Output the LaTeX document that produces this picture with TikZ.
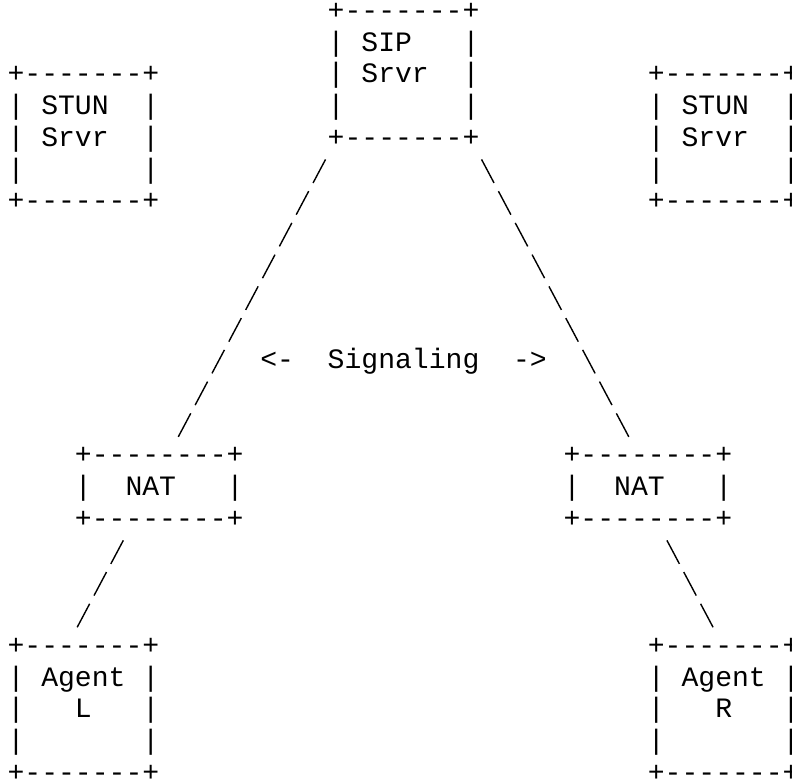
\documentclass[tikz,border=0pt]{standalone}
\usepackage{fontspec}
\setmonofont{Liberation Mono}
\newcommand\asciibox[1]{\vtop{\baselineskip=31.74pt\lineskiplimit=-100pt\lineskip=0pt\relax #1}}
\tikzset{
  asc/.style={inner sep=0pt, outer sep=0pt, anchor=base west,
    font=\ttfamily\fontsize{28.08pt}{31.74pt}\selectfont},
  sig/.style={line width=1.4pt, dash pattern=on 26.6pt off 9.33pt}
}
\begin{document}
\begin{tikzpicture}[x=16.85pt,y=-31.74pt]
\fill[white] (-0.9496,-0.3938) rectangle (46.053,24.275);
\useasboundingbox (-0.9496,-0.3938) rectangle (46.053,24.275);
% boxes
\node[asc] (sip) at (18.5,0.2205) {\asciibox{\hbox{+-------+}\hbox{|~SIP~~~|}\hbox{|~Srvr~~|}\hbox{|~~~~~~~|}\hbox{+-------+}}};
\node[asc] (stunL) at (-0.5,2.2205) {\asciibox{\hbox{+-------+}\hbox{|~STUN~~|}\hbox{|~Srvr~~|}\hbox{|~~~~~~~|}\hbox{+-------+}}};
\node[asc] (stunR) at (37.5,2.2205) {\asciibox{\hbox{+-------+}\hbox{|~STUN~~|}\hbox{|~Srvr~~|}\hbox{|~~~~~~~|}\hbox{+-------+}}};
\node[asc] (natL) at (3.5,14.2205) {\asciibox{\hbox{+--------+}\hbox{|~~NAT~~~|}\hbox{+--------+}}};
\node[asc] (natR) at (32.5,14.2205) {\asciibox{\hbox{+--------+}\hbox{|~~NAT~~~|}\hbox{+--------+}}};
\node[asc] (agentL) at (-0.5,20.2205) {\asciibox{\hbox{+-------+}\hbox{|~Agent~|}\hbox{|~~~L~~~|}\hbox{|~~~~~~~|}\hbox{+-------+}}};
\node[asc] (agentR) at (37.5,20.2205) {\asciibox{\hbox{+-------+}\hbox{|~Agent~|}\hbox{|~~~R~~~|}\hbox{|~~~~~~~|}\hbox{+-------+}}};
\node[asc] (label) at (14.5,11.2205) {<-~~Signaling~~->};
% connector ends
\coordinate (s1a) at (18.37,4.63);  \coordinate (s1b) at (9.63,13.37);
\coordinate (s2a) at (27.63,4.63);  \coordinate (s2b) at (36.37,13.37);
\coordinate (s3a) at (6.37,16.63);  \coordinate (s3b) at (3.63,19.37);
\coordinate (s4a) at (38.63,16.63); \coordinate (s4b) at (41.37,19.37);
\draw[sig] (s1a) -- (s1b);
\draw[sig] (s2a) -- (s2b);
\draw[sig] (s3a) -- (s3b);
\draw[sig] (s4a) -- (s4b);
\end{tikzpicture}
\end{document}
